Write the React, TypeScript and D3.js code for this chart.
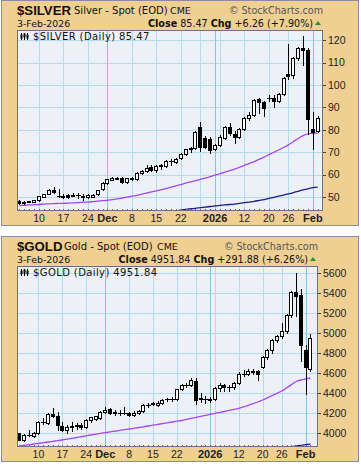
import * as d3 from 'd3';

// trading days shown on both charts
const dates = [
  '2025-11-04', '2025-11-05', '2025-11-06', '2025-11-07',
  '2025-11-10', '2025-11-11', '2025-11-12', '2025-11-13', '2025-11-14',
  '2025-11-17', '2025-11-18', '2025-11-19', '2025-11-20', '2025-11-21',
  '2025-11-24', '2025-11-25', '2025-11-26', '2025-11-28',
  '2025-12-01', '2025-12-02', '2025-12-03', '2025-12-04', '2025-12-05',
  '2025-12-08', '2025-12-09', '2025-12-10', '2025-12-11', '2025-12-12',
  '2025-12-15', '2025-12-16', '2025-12-17', '2025-12-18', '2025-12-19',
  '2025-12-22', '2025-12-23', '2025-12-24', '2025-12-26',
  '2025-12-29', '2025-12-30', '2025-12-31', '2026-01-02',
  '2026-01-05', '2026-01-06', '2026-01-07', '2026-01-08', '2026-01-09',
  '2026-01-12', '2026-01-13', '2026-01-14', '2026-01-15', '2026-01-16',
  '2026-01-20', '2026-01-21', '2026-01-22', '2026-01-23',
  '2026-01-26', '2026-01-27', '2026-01-28', '2026-01-29', '2026-01-30',
  '2026-02-02', '2026-02-03',
];

const gridDates = [
  '2025-11-10', '2025-11-17', '2025-11-24', '2025-12-01', '2025-12-08', '2025-12-15',
  '2025-12-22', '2025-12-29', '2026-01-02', '2026-01-05', '2026-01-12', '2026-01-20',
  '2026-01-26', '2026-02-02',
];
const gridLabels = ['10', '17', '24', 'Dec', '8', '15', '22', '', '2026', '', '12', '20', '26', 'Feb'];
const monthDates = ['2025-12-01', '2026-01-02', '2026-02-02'];

// $SILVER
const silverOpen = [
  48.1, 47.9, 47.9, 47.9, 48.6, 50.2, 51.4, 53.0, 50.5, 50.7, 50.8, 51.0, 50.9, 50.7, 50.0, 50.2,
  51.2, 53.4, 56.4, 57.8, 58.6, 58.3, 56.8, 58.3, 58.1, 60.6, 61.6, 63.5, 62.0, 64.1, 63.9, 66.1,
  65.5, 67.3, 69.2, 71.3, 71.8, 81.3, 76.2, 76.0, 71.3, 73.2, 76.3, 81.2, 78.2, 77.0, 80.3, 85.1,
  86.6, 93.6, 92.4, 94.2, 94.4, 93.0, 95.8, 104.7, 104.4, 111.8, 116.4, 115.5, 80.3, 79.4,
];
const silverHigh = [
  48.6, 48.3, 48.4, 48.9, 50.7, 51.5, 53.5, 54.6, 53.4, 51.2, 51.4, 51.7, 51.8, 51.2, 51.3, 51.4,
  53.3, 56.6, 58.2, 58.9, 59.0, 58.9, 58.6, 58.8, 61.0, 62.0, 64.3, 64.5, 64.5, 64.6, 66.5, 67.0,
  67.3, 69.5, 71.5, 72.5, 79.3, 83.3, 77.4, 76.8, 73.5, 77.6, 81.5, 83.0, 79.5, 81.0, 85.7, 87.8,
  93.7, 94.2, 93.0, 95.5, 95.5, 96.3, 103.5, 118.2, 112.5, 117.0, 121.8, 116.5, 88.0, 86.2,
];
const silverLow = [
  47.0, 47.1, 47.6, 47.7, 48.4, 49.9, 51.2, 51.8, 49.9, 49.7, 49.8, 50.3, 49.8, 48.8, 49.7, 50.0,
  51.0, 53.2, 56.0, 57.4, 57.9, 56.2, 56.5, 57.4, 57.8, 60.2, 61.2, 61.8, 61.4, 62.7, 63.6, 64.5,
  65.0, 67.0, 68.8, 70.3, 71.5, 70.6, 72.0, 69.5, 70.8, 72.8, 75.8, 77.5, 74.0, 76.5, 80.0, 84.5,
  86.3, 87.5, 86.0, 93.0, 90.0, 92.5, 95.3, 102.5, 103.0, 111.0, 109.0, 78.0, 71.3, 79.0,
];
const silverClose = [
  47.3, 47.5, 48.1, 48.7, 50.4, 51.2, 53.1, 52.3, 50.4, 49.9, 50.2, 50.7, 51.0, 49.9, 51.0, 51.1,
  53.1, 56.4, 58.0, 58.3, 58.1, 56.8, 58.3, 58.1, 60.6, 61.6, 63.1, 62.0, 64.0, 63.9, 66.1, 65.9,
  67.1, 69.2, 71.3, 71.7, 78.9, 72.4, 72.5, 71.0, 73.2, 76.9, 81.1, 78.4, 77.0, 80.5, 85.1, 86.6,
  93.3, 92.2, 89.6, 94.4, 93.0, 95.8, 102.9, 103.9, 111.8, 116.3, 115.5, 84.6, 79.21, 85.47,
];
const silverMa50 = [
  46.2, 46.3, 46.5, 46.6, 46.7, 46.9, 47.0, 47.1, 47.2, 47.2, 47.3, 47.4, 47.5, 47.7, 47.8, 48.0,
  48.2, 48.4, 48.6, 48.9, 49.2, 49.6, 50.0, 50.4, 50.8, 51.3, 51.8, 52.3, 52.8, 53.3, 53.8, 54.4,
  55.0, 55.6, 56.2, 56.8, 57.3, 57.9, 58.5, 59.1, 59.8, 60.4, 61.1, 61.8, 62.5, 63.3, 64.1, 65.0,
  65.8, 66.8, 67.8, 68.9, 70.0, 71.0, 72.1, 73.3, 74.7, 76.1, 77.4, 78.2, 78.4, 78.5,
];
const silverMa200 = [
  38.5, 38.7, 38.8, 39.0, 39.2, 39.3, 39.5, 39.7, 39.8, 40.0, 40.2, 40.3, 40.5, 40.7, 40.8, 41.0,
  41.2, 41.3, 41.5, 41.7, 41.8, 42.0, 42.2, 42.3, 42.5, 42.7, 42.8, 43.0, 43.2, 43.3, 43.5, 43.7,
  43.9, 44.2, 44.5, 44.8, 45.0, 45.3, 45.5, 45.8, 46.1, 46.3, 46.5, 46.7, 46.9, 47.2, 47.5, 47.8,
  48.1, 48.5, 48.9, 49.4, 49.9, 50.4, 50.9, 51.4, 52.0, 52.6, 53.2, 53.7, 54.2, 54.4,
];
const silverTicks = [50, 60, 70, 80, 90, 100, 110, 120];

// $GOLD
const goldOpen = [
  3997, 3932, 3985, 3975, 3998, 4113, 4100, 4195, 4175, 4075, 4035, 4065, 4070, 4078, 4065, 4130,
  4140, 4155, 4210, 4237, 4205, 4205, 4205, 4200, 4185, 4200, 4223, 4280, 4290, 4280, 4300, 4335,
  4335, 4340, 4437, 4480, 4480, 4525, 4340, 4345, 4335, 4340, 4447, 4480, 4460, 4460, 4497, 4590,
  4595, 4620, 4620, 4660, 4760, 4830, 4930, 4970, 5017, 5180, 5410, 5385, 4830, 4640,
];
const goldHigh = [
  4005, 3990, 4027, 4010, 4120, 4150, 4200, 4247, 4210, 4110, 4085, 4110, 4100, 4100, 4140, 4165,
  4175, 4225, 4257, 4245, 4235, 4230, 4260, 4215, 4225, 4235, 4290, 4300, 4310, 4320, 4345, 4350,
  4360, 4445, 4495, 4500, 4550, 4550, 4397, 4370, 4360, 4460, 4500, 4495, 4480, 4510, 4610, 4635,
  4640, 4640, 4630, 4770, 4845, 4940, 4985, 5100, 5190, 5420, 5600, 5440, 4880, 4990,
];
const goldLow = [
  3928, 3925, 3970, 3960, 3990, 4095, 4095, 4165, 4030, 4020, 4005, 4020, 4045, 4040, 4050, 4110,
  4130, 4145, 4200, 4195, 4185, 4185, 4190, 4170, 4170, 4190, 4210, 4265, 4280, 4275, 4290, 4315,
  4320, 4330, 4430, 4460, 4475, 4290, 4313, 4300, 4310, 4330, 4420, 4420, 4420, 4440, 4490, 4570,
  4580, 4590, 4530, 4650, 4740, 4800, 4910, 4950, 5000, 5160, 5170, 4720, 4390, 4620,
];
const goldClose = [
  3932, 3980, 3978, 3997, 4113, 4115, 4190, 4175, 4080, 4035, 4065, 4068, 4078, 4065, 4130, 4157,
  4170, 4213, 4230, 4205, 4208, 4203, 4200, 4183, 4203, 4223, 4280, 4278, 4300, 4303, 4330, 4337,
  4340, 4437, 4480, 4485, 4530, 4330, 4348, 4335, 4332, 4447, 4480, 4457, 4465, 4497, 4590, 4595,
  4620, 4615, 4590, 4757, 4830, 4930, 4970, 5017, 5180, 5415, 5375, 4877, 4659.96, 4951.84,
];
const goldMa50 = [
  3870, 3877, 3884, 3890, 3897, 3903, 3910, 3917, 3923, 3930, 3938, 3946, 3955, 3963, 3972, 3980,
  3989, 3997, 4004, 4011, 4018, 4026, 4033, 4040, 4047, 4055, 4062, 4070, 4078, 4086, 4094, 4102,
  4110, 4118, 4125, 4135, 4146, 4156, 4166, 4176, 4186, 4197, 4206, 4215, 4226, 4236, 4247, 4262,
  4277, 4293, 4310, 4330, 4352, 4375, 4397, 4420, 4450, 4482, 4515, 4530, 4540, 4550,
];
const goldMa200 = [
  3480, 3486, 3493, 3500, 3506, 3513, 3521, 3527, 3534, 3540, 3548, 3554, 3561, 3567, 3574, 3581,
  3587, 3594, 3601, 3608, 3614, 3621, 3627, 3634, 3641, 3648, 3654, 3661, 3668, 3674, 3681, 3688,
  3694, 3701, 3708, 3714, 3721, 3728, 3734, 3741, 3748, 3754, 3761, 3768, 3774, 3781, 3788, 3794,
  3801, 3808, 3815, 3822, 3829, 3836, 3843, 3850, 3856, 3863, 3870, 3877, 3884, 3890,
];
const goldTicks = [4000, 4200, 4400, 4600, 4800, 5000, 5200, 5400, 5600];

const TAN = '#efd092';
const PLOT_BG = '#eef0f8';
const GRID = '#b2dcea';
const GRID_MONTH = '#86c4de';
const FONT = 'Liberation Sans, Arial, sans-serif';
const VFONT = 'DejaVu Sans, Verdana, sans-serif';

type PanelProps = {
  id: string;
  top: number;
  plotRight: number;
  step: number;
  yDomain: [number, number];
  ticks: number[];
  symbol: string;
  name: string;
  nameX: number;
  cmeX: number;
  last: string;
  chg: string;
  open: number[];
  high: number[];
  low: number[];
  close: number[];
  ma50: number[];
  ma200: number[];
};

function Panel(p: PanelProps) {
  const left = 17;
  const plotTop = p.top + 30;
  const plotBottom = p.top + 211;
  const x = d3
    .scaleBand<string>()
    .domain(dates)
    .range([left, left + dates.length * p.step]);
  const cx = (d: string) => x(d)! + x.bandwidth() / 2;
  const y = d3.scaleLinear().domain(p.yDomain).range([plotBottom, plotTop]);
  const line = (vals: number[]) =>
    d3
      .line<number>()
      .x((_, i) => cx(dates[i]))
      .y((v) => y(v))
      .curve(d3.curveMonotoneX)(vals) ?? '';
  const px = (v: number) => Math.round(v) + 0.5;

  return (
    <g>
      <rect x={1.5} y={p.top + 0.5} width={357} height={225} fill={TAN} stroke="#8a8aa6" />
      <text x={left} y={p.top + 14.5} fontFamily={FONT} fontWeight="bold" fontSize={13.2} fill="#111">
        {p.symbol}
      </text>
      <text x={p.nameX} y={p.top + 14} fontFamily={VFONT} fontSize={10} fill="#111">
        {p.name}
      </text>
      <text x={p.cmeX} y={p.top + 14} fontFamily={VFONT} fontSize={9.5} fill="#111">
        CME
      </text>
      <text x={p.plotRight} y={p.top + 14} textAnchor="end" fontFamily={VFONT} fontSize={9.6} fill="#555">
        © StockCharts.com
      </text>
      <text x={left} y={p.top + 26.5} fontFamily={VFONT} fontSize={9.4} fill="#111">
        3-Feb-2026
      </text>
      <text x={p.plotRight - 10} y={p.top + 26.5} textAnchor="end" fontFamily={VFONT} fontSize={9.6} fill="#111">
        <tspan fontWeight="bold">Close</tspan>
        <tspan> {p.last} </tspan>
        <tspan fontWeight="bold">Chg</tspan>
        <tspan> {p.chg}</tspan>
      </text>
      <path
        d={`M${p.plotRight - 8},${p.top + 25}L${p.plotRight - 2},${p.top + 25}L${p.plotRight - 5},${p.top + 21}Z`}
        fill="#2e8b3a"
      />

      <clipPath id={`clip-${p.id}`}>
        <rect x={left} y={plotTop} width={p.plotRight - left} height={plotBottom - plotTop} />
      </clipPath>
      <rect x={left} y={plotTop} width={p.plotRight - left} height={plotBottom - plotTop} fill={PLOT_BG} />

      <g clipPath={`url(#clip-${p.id})`}>
        {p.ticks.map((t) => (
          <line key={t} x1={left} x2={p.plotRight} y1={px(y(t))} y2={px(y(t))} stroke={GRID} />
        ))}
        {gridDates.map((d) => (
          <line
            key={d}
            x1={px(cx(d))}
            x2={px(cx(d))}
            y1={plotTop}
            y2={plotBottom}
            stroke={monthDates.includes(d) ? GRID_MONTH : GRID}
          />
        ))}
        <path d={line(p.ma200)} fill="none" stroke="#1c1c8a" strokeWidth={1.3} />
        <path d={line(p.ma50)} fill="none" stroke="#a347f0" strokeWidth={1.3} />

        {dates.map((d, i) => {
          const xc = Math.round(cx(d));
          const o = p.open[i];
          const c = p.close[i];
          const yTop = Math.round(y(Math.max(o, c)));
          const yBot = Math.round(y(Math.min(o, c)));
          const up = c >= o;
          return (
            <g key={d}>
              <line
                x1={xc + 0.5}
                x2={xc + 0.5}
                y1={Math.round(y(p.high[i]))}
                y2={Math.round(y(p.low[i])) + 1}
                stroke="#000"
              />
              {yBot - yTop < 1 ? (
                <line x1={xc - 2} x2={xc + 3} y1={yTop + 0.5} y2={yTop + 0.5} stroke="#000" />
              ) : (
                <rect
                  x={xc - 1.5}
                  y={yTop + 0.5}
                  width={3}
                  height={yBot - yTop}
                  fill={up ? '#fff' : '#000'}
                  stroke="#000"
                />
              )}
            </g>
          );
        })}

        {dates.map((d) => (
          <line
            key={d}
            x1={px(cx(d))}
            x2={px(cx(d))}
            y1={plotBottom - 2}
            y2={plotBottom}
            stroke="#666"
          />
        ))}
      </g>

      {/* candle icon + legend */}
      <g stroke="#000">
        {[0, 1, 2].map((k) => (
          <g key={k}>
            <line x1={21.5 + k * 3} x2={21.5 + k * 3} y1={p.top + 33} y2={p.top + 40} />
            <rect x={21 + k * 3} y={p.top + 35 - (k % 2)} width={1} height={3} fill={k === 1 ? '#fff' : '#000'} />
          </g>
        ))}
      </g>
      <text
        x={33}
        y={p.top + 39.5}
        fontFamily={VFONT}
        fontSize={10}
        letterSpacing={0.4}
        fill="#111"
      >
        {`${p.symbol} (Daily) ${p.last}`}
      </text>

      <rect
        x={left + 0.5}
        y={plotTop + 0.5}
        width={p.plotRight - left - 1}
        height={plotBottom - plotTop - 1}
        fill="none"
        stroke="#6e6e88"
      />

      {p.ticks.map((t) => (
        <g key={t}>
          <line x1={p.plotRight} x2={p.plotRight + 3} y1={px(y(t))} y2={px(y(t))} stroke="#444" />
          <text
            x={p.plotRight + 5}
            y={y(t) + 3.8}
            fontFamily={FONT}
            fontSize={10.5}
            fill="#222"
          >
            {t}
          </text>
        </g>
      ))}

      {gridDates.map((d, i) =>
        gridLabels[i] ? (
          <text
            key={d}
            x={cx(d)}
            y={p.top + 221.5}
            textAnchor="middle"
            fontFamily={FONT}
            fontSize={monthDates.includes(d) ? 11 : 10.5}
            fontWeight={monthDates.includes(d) ? 'bold' : 'normal'}
            fill="#222"
          >
            {gridLabels[i]}
          </text>
        ) : null,
      )}
    </g>
  );
}

export default function App() {
  return (
    <svg
      width={361}
      height={466}
      style={{ position: 'absolute', left: 0, top: 0, background: '#fff' }}
    >
      <Panel
        id="silver"
        top={0}
        plotRight={323}
        step={4.89}
        yDomain={[43.8, 124.5]}
        ticks={silverTicks}
        symbol="$SILVER"
        name="Silver - Spot (EOD)"
        nameX={74}
        cmeX={170}
        last="85.47"
        chg="+6.26 (+7.90%)"
        open={silverOpen}
        high={silverHigh}
        low={silverLow}
        close={silverClose}
        ma50={silverMa50}
        ma200={silverMa200}
      />
      <Panel
        id="gold"
        top={236}
        plotRight={318}
        step={4.77}
        yDomain={[3860, 5670]}
        ticks={goldTicks}
        symbol="$GOLD"
        name="Gold - Spot (EOD)"
        nameX={64}
        cmeX={157}
        last="4951.84"
        chg="+291.88 (+6.26%)"
        open={goldOpen}
        high={goldHigh}
        low={goldLow}
        close={goldClose}
        ma50={goldMa50}
        ma200={goldMa200}
      />
    </svg>
  );
}
